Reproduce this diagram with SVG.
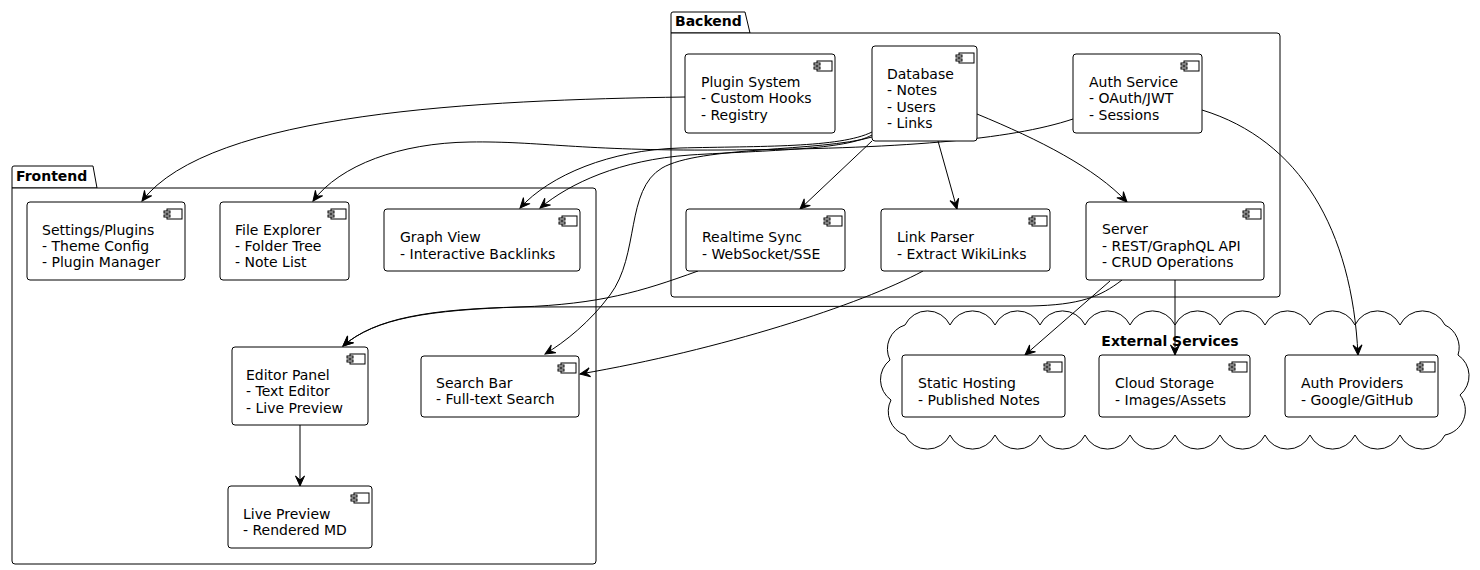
<svg xmlns="http://www.w3.org/2000/svg" width="1480" height="570" viewBox="0 0 1480 570">
  <style>
    text { font-family: "DejaVu Sans", "Liberation Sans", sans-serif; font-size: 14px; fill: #000; }
    .pkg-label { font-weight: bold; }
    .pkg { fill: #fff; stroke: #000; stroke-width: 1; }
    .box { fill: #fff; stroke: #000; stroke-width: 1; }
    .icon { fill: #fff; stroke: #000; stroke-width: 1; }
    .edge { fill: none; stroke: #000; stroke-width: 1; marker-end: url(#ah); }
  </style>
  <defs>
    <marker id="ah" viewBox="-11 -6 12 12" refX="0" refY="0" markerWidth="12" markerHeight="12" markerUnits="userSpaceOnUse" orient="auto">
      <path d="M0,0 L-10,-4.5 L-6,0 L-10,4.5 Z" fill="#000" stroke="#000" stroke-width="1"/>
    </marker>
    <!-- component glyph, anchored at the top-right corner of its node -->
    <g id="cicon">
      <rect class="icon" x="-18" y="7" width="15" height="10"/>
      <rect class="icon" x="-21" y="9" width="6" height="2"/>
      <rect class="icon" x="-21" y="13" width="6" height="2"/>
    </g>
  </defs>

  <rect width="1480" height="570" fill="#fff"/>

  <!-- packages -->
  <g id="pkg-backend">
    <path class="pkg" d="M671,33 L671,14 Q671,12 673,12 L745,12 L750,33 Z"/>
    <path class="pkg" d="M671,33 L1277,33 Q1280,33 1280,36 L1280,294 Q1280,297 1277,297 L674,297 Q671,297 671,294 Z"/>
    <text class="pkg-label" x="675" y="26">Backend</text>
  </g>
  <g id="pkg-frontend">
    <path class="pkg" d="M12,188 L12,168 Q12,166 14,166 L93,166 L97,188 Z"/>
    <path class="pkg" d="M12,188 L593,188 Q596,188 596,191 L596,561 Q596,564 593,564 L15,564 Q12,564 12,561 Z"/>
    <text class="pkg-label" x="16" y="181">Frontend</text>
  </g>
  <g id="pkg-external">
    <path class="pkg" d="M905,325
      a25,25 0 0 1 45,0 a25,25 0 0 1 45,0 a25,25 0 0 1 45,0 a25,25 0 0 1 45,0
      a25,25 0 0 1 45,0 a25,25 0 0 1 45,0 a25,25 0 0 1 45,0 a25,25 0 0 1 45,0
      a25,25 0 0 1 45,0 a25,25 0 0 1 45,0 a25,25 0 0 1 45,0 a25,25 0 0 1 45,0
      a25,25 0 0 1 13,30 a25,25 0 0 1 2,40 a25,25 0 0 1 -15,40
      a25,25 0 0 1 -45,0 a25,25 0 0 1 -45,0 a25,25 0 0 1 -45,0 a25,25 0 0 1 -45,0
      a25,25 0 0 1 -45,0 a25,25 0 0 1 -45,0 a25,25 0 0 1 -45,0 a25,25 0 0 1 -45,0
      a25,25 0 0 1 -45,0 a25,25 0 0 1 -45,0 a25,25 0 0 1 -45,0 a25,25 0 0 1 -45,0
      a25,25 0 0 1 -14,-35 a25,25 0 0 1 -1,-40 a25,25 0 0 1 15,-35 Z"/>
    <text class="pkg-label" x="1170" y="346" text-anchor="middle">External Services</text>
  </g>

  <!-- connectors -->
  <g id="connectors">
    <path class="edge" d="M685,97 C480,100 210,112 142,201"/>
    <path class="edge" d="M1073,119 C1010,140 900,149 720,150 C580,151 540,141 470,142 C400,143 340,165 313,201"/>
    <path class="edge" d="M872,132 C840,148 760,146 680,148 C610,150 550,175 520,208"/>
    <path class="edge" d="M872,135 C845,150 770,150 690,155 C620,160 570,183 540,208"/>
    <path class="edge" d="M872,137 C820,152 700,146 662,168 C625,190 640,255 610,295 C590,322 565,342 545,354"/>
    <path class="edge" d="M872,141 L800,209"/>
    <path class="edge" d="M938,141 L957,209"/>
    <path class="edge" d="M977,114 C1040,140 1095,168 1127,202"/>
    <path class="edge" d="M1202,110 C1300,140 1352,230 1358,355"/>
    <path class="edge" d="M698,271 C640,292 600,304 520,307 C430,310 375,318 343,346"/>
    <path class="edge" d="M1122,280 C1100,297 1080,305 1030,306 L520,307 C430,309 375,318 343,346"/>
    <path class="edge" d="M923,271 C860,305 720,350 580,374"/>
    <path class="edge" d="M1110,281 L1025,355"/>
    <path class="edge" d="M1175,280 L1175,355"/>
    <path class="edge" d="M300,425 L300,486"/>
  </g>

  <!-- backend nodes -->
  <g id="plugin-system">
    <rect class="box" x="685" y="54" width="150" height="79" rx="3"/>
    <use href="#cicon" x="835" y="54"/>
    <text x="701" y="87">Plugin System</text>
    <text x="701" y="103">- Custom Hooks</text>
    <text x="701" y="120">- Registry</text>
  </g>
  <g id="database">
    <rect class="box" x="872" y="46" width="105" height="95" rx="3"/>
    <use href="#cicon" x="977" y="46"/>
    <text x="887" y="79">Database</text>
    <text x="887" y="95">- Notes</text>
    <text x="887" y="112">- Users</text>
    <text x="887" y="128">- Links</text>
  </g>
  <g id="auth-service">
    <rect class="box" x="1073" y="54" width="129" height="79" rx="3"/>
    <use href="#cicon" x="1202" y="54"/>
    <text x="1089" y="87">Auth Service</text>
    <text x="1089" y="103">- OAuth/JWT</text>
    <text x="1089" y="120">- Sessions</text>
  </g>
  <g id="realtime-sync">
    <rect class="box" x="686" y="209" width="159" height="62" rx="3"/>
    <use href="#cicon" x="845" y="209"/>
    <text x="702" y="242">Realtime Sync</text>
    <text x="702" y="259">- WebSocket/SSE</text>
  </g>
  <g id="link-parser">
    <rect class="box" x="881" y="209" width="169" height="62" rx="3"/>
    <use href="#cicon" x="1050" y="209"/>
    <text x="897" y="242">Link Parser</text>
    <text x="897" y="259">- Extract WikiLinks</text>
  </g>
  <g id="server">
    <rect class="box" x="1086" y="202" width="178" height="78" rx="3"/>
    <use href="#cicon" x="1264" y="202"/>
    <text x="1102" y="234">Server</text>
    <text x="1102" y="251">- REST/GraphQL API</text>
    <text x="1102" y="267">- CRUD Operations</text>
  </g>

  <!-- frontend nodes -->
  <g id="settings-plugins">
    <rect class="box" x="27" y="202" width="158" height="78" rx="3"/>
    <use href="#cicon" x="185" y="202"/>
    <text x="42" y="235">Settings/Plugins</text>
    <text x="42" y="251">- Theme Config</text>
    <text x="42" y="267">- Plugin Manager</text>
  </g>
  <g id="file-explorer">
    <rect class="box" x="220" y="202" width="129" height="78" rx="3"/>
    <use href="#cicon" x="349" y="202"/>
    <text x="235" y="235">File Explorer</text>
    <text x="235" y="251">- Folder Tree</text>
    <text x="235" y="267">- Note List</text>
  </g>
  <g id="graph-view">
    <rect class="box" x="384" y="209" width="196" height="62" rx="3"/>
    <use href="#cicon" x="580" y="209"/>
    <text x="400" y="242">Graph View</text>
    <text x="400" y="259">- Interactive Backlinks</text>
  </g>
  <g id="editor-panel">
    <rect class="box" x="232" y="347" width="136" height="78" rx="3"/>
    <use href="#cicon" x="368" y="347"/>
    <text x="246" y="380">Editor Panel</text>
    <text x="246" y="396">- Text Editor</text>
    <text x="246" y="413">- Live Preview</text>
  </g>
  <g id="search-bar">
    <rect class="box" x="421" y="356" width="158" height="61" rx="3"/>
    <use href="#cicon" x="579" y="356"/>
    <text x="436" y="388">Search Bar</text>
    <text x="436" y="404">- Full-text Search</text>
  </g>
  <g id="live-preview">
    <rect class="box" x="228" y="486" width="144" height="62" rx="3"/>
    <use href="#cicon" x="372" y="486"/>
    <text x="243" y="519">Live Preview</text>
    <text x="243" y="535">- Rendered MD</text>
  </g>

  <!-- external nodes -->
  <g id="static-hosting">
    <rect class="box" x="902" y="355" width="163" height="62" rx="3"/>
    <use href="#cicon" x="1065" y="355"/>
    <text x="918" y="388">Static Hosting</text>
    <text x="918" y="405">- Published Notes</text>
  </g>
  <g id="cloud-storage">
    <rect class="box" x="1099" y="355" width="151" height="62" rx="3"/>
    <use href="#cicon" x="1250" y="355"/>
    <text x="1115" y="388">Cloud Storage</text>
    <text x="1115" y="405">- Images/Assets</text>
  </g>
  <g id="auth-providers">
    <rect class="box" x="1285" y="355" width="153" height="62" rx="3"/>
    <use href="#cicon" x="1438" y="355"/>
    <text x="1301" y="388">Auth Providers</text>
    <text x="1301" y="405">- Google/GitHub</text>
  </g>
</svg>
